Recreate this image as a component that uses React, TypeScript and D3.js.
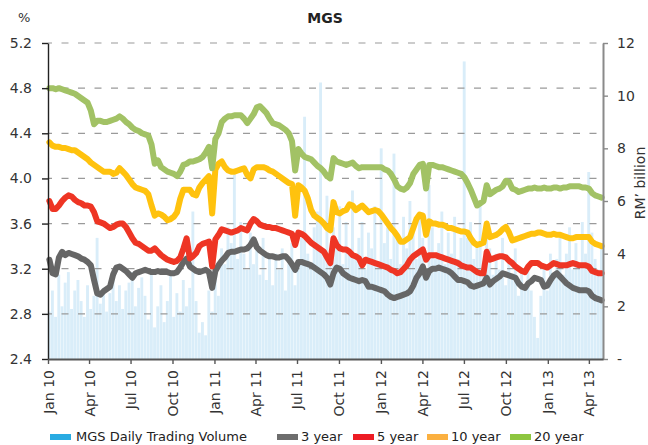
import { useEffect, useRef } from 'react';
import * as d3 from 'd3';

// weekly observations, Monday 4 Jan 2010 .. Monday 29 Apr 2013
const weeks = d3.timeMonday.range(new Date(2010, 0, 4), new Date(2013, 4, 1));

// MGS daily trading volume, RM billion (right axis)
const volume = [
  1.8, 2.6, 1.6, 3.2, 2.0, 2.9, 3.3, 1.9, 2.6, 3.0,
  2.2, 1.6, 2.8, 1.9, 2.4, 4.6, 2.1, 2.7, 1.8, 2.5,
  3.0, 2.2, 2.8, 1.9, 2.6, 2.9, 3.3, 2.0, 2.7, 3.1,
  2.4, 1.5, 3.4, 1.2, 2.0, 2.8, 1.4, 2.2, 3.3, 1.6,
  2.5, 1.8, 3.0, 2.0, 2.7, 5.6, 2.2, 1.0, 1.4, 0.9,
  2.6, 1.8, 3.2, 2.4, 4.2, 3.6, 5.0, 4.4, 7.0, 3.8,
  5.2, 4.0, 3.4, 4.8, 3.6, 4.4, 3.2, 4.6, 3.0, 3.8,
  2.8, 4.0, 3.4, 4.2, 2.6, 3.6, 4.4, 2.8, 3.8, 4.6,
  9.2, 4.0, 3.6, 5.0, 5.6, 10.5, 4.2, 6.2, 3.8, 5.0,
  4.4, 5.8, 3.6, 5.2, 4.0, 6.4, 3.8, 4.6, 5.2, 3.4,
  4.8, 4.2, 5.8, 3.6, 8.0, 4.4, 5.0, 3.8, 7.8, 4.6,
  3.6, 5.4, 4.2, 6.0, 4.8, 3.8, 5.4, 4.6, 3.4, 6.6,
  5.0, 3.8, 4.4, 5.6, 3.6, 4.8, 4.0, 5.4, 3.8, 4.6,
  11.3, 4.6, 5.2, 3.8, 4.4, 5.8, 3.6, 4.8, 4.2, 3.2,
  4.0, 3.4, 4.6, 2.8, 3.8, 3.0, 4.2, 2.4, 3.4, 2.8,
  3.6, 2.6, 1.6, 0.8, 2.4, 3.4, 2.6, 4.0, 3.0, 3.8,
  4.6, 3.2, 4.0, 5.0, 3.4, 4.4, 3.6, 5.2, 4.0, 7.1,
  4.8, 3.8, 3.4, 4.2,
];

// yields, % (left axis)
const yield3 = [
  3.28, 3.16, 3.15, 3.30, 3.35, 3.32, 3.34, 3.33, 3.32, 3.31,
  3.29, 3.28, 3.26, 3.23, 3.10, 2.98, 2.97, 3.00, 3.02, 3.04,
  3.15, 3.21, 3.22, 3.20, 3.18, 3.15, 3.12, 3.16, 3.17, 3.18,
  3.19, 3.18, 3.17, 3.17, 3.18, 3.17, 3.17, 3.17, 3.16, 3.16,
  3.17, 3.21, 3.26, 3.29, 3.22, 3.20, 3.18, 3.17, 3.18, 3.19,
  3.17, 3.03, 3.18, 3.23, 3.27, 3.30, 3.34, 3.35, 3.35, 3.36,
  3.37, 3.37, 3.38, 3.41, 3.46, 3.39, 3.36, 3.34, 3.32, 3.31,
  3.31, 3.30, 3.30, 3.31, 3.31, 3.28, 3.24, 3.19, 3.26, 3.26,
  3.25, 3.24, 3.23, 3.21, 3.19, 3.17, 3.15, 3.12, 3.06, 3.16,
  3.21, 3.20, 3.16, 3.14, 3.12, 3.11, 3.10, 3.09, 3.10, 3.09,
  3.04, 3.04, 3.03, 3.02, 3.01, 3.00, 2.97, 2.95, 2.94, 2.95,
  2.96, 2.97, 2.98, 3.00, 3.05, 3.12, 3.16, 3.22, 3.12, 3.18,
  3.20, 3.20, 3.21, 3.20, 3.19, 3.18, 3.16, 3.13, 3.10, 3.10,
  3.09, 3.08, 3.05, 3.04, 3.05, 3.06, 3.07, 3.12, 3.06, 3.09,
  3.11, 3.13, 3.16, 3.15, 3.14, 3.13, 3.12, 3.07, 3.04, 3.03,
  3.07, 3.09, 3.12, 3.11, 3.10, 3.04, 3.05, 3.10, 3.14, 3.16,
  3.13, 3.10, 3.07, 3.05, 3.03, 3.02, 3.01, 3.01, 3.01, 3.00,
  2.96, 2.94, 2.93, 2.92,
];

const yield5 = [
  3.80, 3.73, 3.73, 3.76, 3.80, 3.83, 3.85, 3.84, 3.81, 3.79,
  3.78, 3.76, 3.76, 3.75, 3.70, 3.62, 3.61, 3.60, 3.58, 3.56,
  3.57, 3.59, 3.60, 3.60, 3.57, 3.52, 3.47, 3.43, 3.42, 3.40,
  3.38, 3.36, 3.36, 3.38, 3.35, 3.32, 3.30, 3.28, 3.27, 3.26,
  3.27, 3.30, 3.38, 3.47, 3.29, 3.31, 3.34, 3.40, 3.42, 3.43,
  3.44, 3.22, 3.46, 3.50, 3.55, 3.54, 3.53, 3.52, 3.53, 3.54,
  3.56, 3.55, 3.54, 3.60, 3.64, 3.62, 3.59, 3.58, 3.57, 3.57,
  3.56, 3.56, 3.55, 3.54, 3.53, 3.52, 3.51, 3.41, 3.52, 3.51,
  3.49, 3.46, 3.43, 3.41, 3.39, 3.37, 3.35, 3.30, 3.25, 3.47,
  3.41, 3.38, 3.37, 3.37, 3.35, 3.32, 3.31, 3.29, 3.23, 3.28,
  3.27, 3.26, 3.25, 3.24, 3.23, 3.22, 3.21, 3.19, 3.18, 3.16,
  3.17, 3.20, 3.23, 3.28, 3.31, 3.33, 3.35, 3.37, 3.28, 3.32,
  3.32, 3.32, 3.31, 3.30, 3.29, 3.28, 3.27, 3.26, 3.25, 3.23,
  3.22, 3.21, 3.21, 3.19, 3.17, 3.16, 3.16, 3.35, 3.28, 3.29,
  3.30, 3.31, 3.31, 3.30, 3.27, 3.25, 3.22, 3.20, 3.18, 3.17,
  3.22, 3.25, 3.25, 3.25, 3.23, 3.22, 3.21, 3.23, 3.25, 3.24,
  3.23, 3.23, 3.23, 3.24, 3.25, 3.24, 3.23, 3.23, 3.23, 3.22,
  3.18, 3.17, 3.16, 3.16,
];

const yield10 = [
  4.32, 4.29, 4.28, 4.28, 4.27, 4.27, 4.26, 4.25, 4.25, 4.23,
  4.21, 4.19, 4.17, 4.14, 4.12, 4.10, 4.08, 4.06, 4.06, 4.06,
  4.04, 4.05, 4.09, 4.06, 4.03, 3.99, 3.95, 3.92, 3.91, 3.90,
  3.89, 3.86, 3.76, 3.67, 3.69, 3.68, 3.66, 3.63, 3.64, 3.66,
  3.70, 3.82, 3.90, 3.90, 3.90, 3.86, 3.85, 3.92, 3.96, 3.99,
  4.02, 3.69, 4.08, 4.13, 4.15, 4.10, 4.07, 4.06, 4.06, 4.07,
  4.08, 4.09, 4.03, 4.00, 4.08, 4.10, 4.10, 4.10, 4.09, 4.07,
  4.06, 4.04, 4.02, 4.00, 3.98, 3.96, 3.95, 3.67, 3.94, 3.92,
  3.89, 3.82, 3.72, 3.67, 3.65, 3.63, 3.60, 3.56, 3.54, 3.79,
  3.70, 3.69, 3.71, 3.72, 3.77, 3.76, 3.72, 3.74, 3.76, 3.73,
  3.70, 3.71, 3.72, 3.71, 3.68, 3.64, 3.60, 3.56, 3.53, 3.49,
  3.44, 3.44, 3.46, 3.48, 3.56, 3.64, 3.68, 3.67, 3.50, 3.62,
  3.60, 3.60, 3.59, 3.59, 3.58, 3.56, 3.56, 3.55, 3.54, 3.53,
  3.53, 3.52, 3.47, 3.43, 3.41, 3.42, 3.43, 3.60, 3.48, 3.49,
  3.50, 3.52, 3.55, 3.57, 3.52, 3.45, 3.46, 3.47, 3.48, 3.49,
  3.50, 3.51, 3.51, 3.52, 3.52, 3.51, 3.50, 3.50, 3.51, 3.50,
  3.50, 3.49, 3.48, 3.47, 3.47, 3.48, 3.48, 3.48, 3.48, 3.48,
  3.44, 3.42, 3.41, 3.40,
];

const yield20 = [
  4.80, 4.80, 4.79, 4.80, 4.79, 4.78, 4.77, 4.76, 4.75, 4.73,
  4.71, 4.69, 4.67, 4.60, 4.48, 4.51, 4.51, 4.50, 4.50, 4.51,
  4.52, 4.53, 4.55, 4.53, 4.50, 4.48, 4.45, 4.43, 4.42, 4.40,
  4.39, 4.38, 4.30, 4.13, 4.16, 4.10, 4.08, 4.06, 4.05, 4.04,
  4.02, 4.06, 4.12, 4.13, 4.15, 4.15, 4.16, 4.17, 4.19, 4.23,
  4.28, 4.09, 4.35, 4.40, 4.50, 4.53, 4.55, 4.55, 4.56, 4.56,
  4.56, 4.53, 4.49, 4.53, 4.57, 4.63, 4.64, 4.61, 4.58, 4.53,
  4.49, 4.48, 4.47, 4.45, 4.43, 4.40, 4.33, 4.07, 4.26, 4.22,
  4.19, 4.18, 4.17, 4.14, 4.11, 4.09, 4.06, 4.02, 4.00, 4.18,
  4.15, 4.14, 4.13, 4.12, 4.13, 4.14, 4.11, 4.09, 4.10, 4.10,
  4.10, 4.10, 4.10, 4.10, 4.10, 4.08, 4.07, 4.04, 3.99, 3.93,
  3.91, 3.90, 3.92, 3.96, 4.04, 4.08, 4.12, 4.13, 3.91, 4.12,
  4.12, 4.11, 4.10, 4.10, 4.09, 4.08, 4.07, 4.06, 4.05, 4.04,
  4.01, 3.96, 3.90, 3.83, 3.76, 3.78, 3.80, 3.94, 3.86, 3.88,
  3.90, 3.91, 3.93, 3.98, 3.97, 3.91, 3.90, 3.88, 3.89, 3.90,
  3.91, 3.91, 3.92, 3.91, 3.91, 3.92, 3.91, 3.91, 3.92, 3.92,
  3.91, 3.92, 3.92, 3.93, 3.93, 3.93, 3.93, 3.92, 3.92, 3.91,
  3.87, 3.85, 3.84, 3.83,
];

const yieldTicks = [2.4, 2.8, 3.2, 3.6, 4.0, 4.4, 4.8, 5.2];
const volumeTicks = [0, 2, 4, 6, 8, 10, 12];

const series = [
  { name: '3 year', values: yield3, color: '#666666', swatch: '#6d6d6d' },
  { name: '5 year', values: yield5, color: '#ee3524', swatch: '#ed1c24' },
  { name: '10 year', values: yield10, color: '#ffc20e', swatch: '#fbb040' },
  { name: '20 year', values: yield20, color: '#a2c265', swatch: '#8dc63f' },
];

const FONT = '"DejaVu Sans", sans-serif';

export default function App() {
  const svgRef = useRef<SVGSVGElement>(null);

  useEffect(() => {
    if (!svgRef.current) return;
    const svg = d3.select(svgRef.current);
    svg.selectAll('*').remove();

    const left = 48, right = 603, top = 43, bottom = 359;

    const x = d3.scaleTime()
      .domain([new Date(2010, 0, 1), new Date(2013, 4, 2)])
      .range([left, right]);
    const yL = d3.scaleLinear().domain([2.4, 5.2]).range([bottom, top]);
    const yR = d3.scaleLinear().domain([0, 12]).range([bottom, top]);

    // volume bars
    const step = x(weeks[1]) - x(weeks[0]);
    svg.append('g')
      .selectAll('rect')
      .data(volume)
      .join('rect')
      .attr('x', (_, i) => x(weeks[i]) - step / 2)
      .attr('width', step * 0.9)
      .attr('y', d => yR(d))
      .attr('height', d => bottom - yR(d))
      .attr('fill', '#d9edf9');

    // dashed gridlines
    svg.append('g')
      .selectAll('line')
      .data(yieldTicks.slice(1))
      .join('line')
      .attr('x1', left)
      .attr('x2', right)
      .attr('y1', d => yL(d))
      .attr('y2', d => yL(d))
      .attr('stroke', '#9a9a9a')
      .attr('stroke-width', 1.2)
      .attr('stroke-dasharray', '7,9.5')
      .attr('stroke-dashoffset', 3);

    // yield lines
    const line = d3.line<number>()
      .x((_, i) => x(weeks[i]))
      .y(d => yL(d));
    series.forEach(s => {
      svg.append('path')
        .datum(s.values)
        .attr('fill', 'none')
        .attr('stroke', s.color)
        .attr('stroke-width', 6)
        .attr('stroke-linejoin', 'round')
        .attr('stroke-linecap', 'round')
        .attr('d', line);
    });

    // left axis
    const axL = svg.append('g')
      .attr('transform', `translate(${left},0)`)
      .call(d3.axisLeft(yL).tickValues(yieldTicks).tickFormat(d3.format('.1f'))
        .tickSize(6).tickSizeOuter(0).tickPadding(10));
    axL.select('.domain').attr('stroke', '#222').attr('stroke-width', 1.4);
    axL.selectAll('.tick line').attr('stroke', '#222').attr('stroke-width', 1.4);
    axL.selectAll('.tick text').attr('font-size', 14).attr('font-family', FONT).attr('fill', '#333');

    // right axis
    const axR = svg.append('g')
      .attr('transform', `translate(${right},0)`)
      .call(d3.axisRight(yR).tickValues(volumeTicks)
        .tickFormat(d => (d === 0 ? '-' : String(d)))
        .tickSize(5).tickSizeOuter(0).tickPadding(9));
    axR.select('.domain').attr('stroke', '#8a8a8a').attr('stroke-width', 2);
    axR.selectAll('.tick line').attr('stroke', '#8a8a8a').attr('stroke-width', 1.4);
    axR.selectAll('.tick text').attr('font-size', 14).attr('font-family', FONT).attr('fill', '#333');

    // bottom axis
    const axB = svg.append('g')
      .attr('transform', `translate(0,${bottom})`)
      .call(d3.axisBottom(x).ticks(d3.timeMonth.every(3))
        .tickFormat(d => d3.timeFormat('%b %y')(d as Date))
        .tickSize(5).tickSizeOuter(0));
    axB.select('.domain').attr('stroke', '#555').attr('stroke-width', 2);
    axB.selectAll('.tick line').attr('stroke', '#555').attr('stroke-width', 1.4);
    axB.selectAll('.tick text')
      .attr('font-size', 14)
      .attr('font-family', FONT)
      .attr('fill', '#333')
      .attr('text-anchor', 'end')
      .attr('dy', null)
      .attr('y', 0)
      .attr('transform', 'translate(5,11) rotate(-90)');

    // titles
    svg.append('text')
      .attr('x', 325).attr('y', 23)
      .attr('text-anchor', 'middle')
      .attr('font-family', FONT).attr('font-size', 14).attr('font-weight', 'bold')
      .attr('fill', '#222')
      .text('MGS');
    svg.append('text')
      .attr('x', 18).attr('y', 22)
      .attr('font-family', FONT).attr('font-size', 13).attr('fill', '#333')
      .text('%');
    svg.append('text')
      .attr('transform', 'translate(645,183) rotate(-90)')
      .attr('text-anchor', 'middle')
      .attr('font-family', FONT).attr('font-size', 14).attr('fill', '#333')
      .text('RM\u2019 billion');

    // legend
    const legend = [
      { name: 'MGS Daily Trading Volume', color: '#29abe2', at: 50 },
      { name: series[0].name, color: series[0].swatch, at: 277 },
      { name: series[1].name, color: series[1].swatch, at: 353 },
      { name: series[2].name, color: series[2].swatch, at: 427 },
      { name: series[3].name, color: series[3].swatch, at: 510 },
    ];
    const lg = svg.append('g');
    legend.forEach((d, i) => {
      lg.append('rect')
        .attr('x', d.at).attr('y', 434)
        .attr('width', 21).attr('height', 6)
        .attr('fill', d.color);
      lg.append('text')
        .attr('x', d.at + (i === 0 ? 26 : 24)).attr('y', 441)
        .attr('font-family', FONT).attr('font-size', 13).attr('fill', '#222')
        .text(d.name);
    });
  }, []);

  return (
    <svg
      ref={svgRef}
      width={648}
      height={445}
      style={{ position: 'absolute', left: 0, top: 0, background: '#fff' }}
    />
  );
}
